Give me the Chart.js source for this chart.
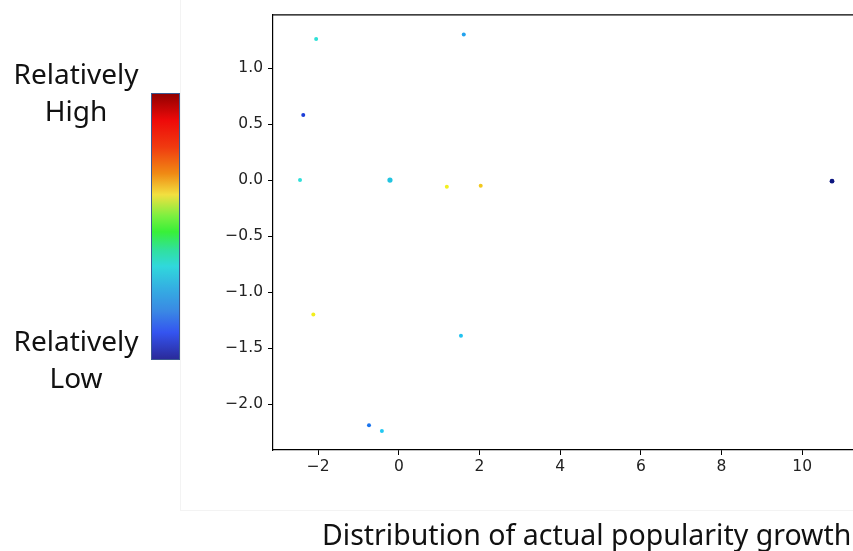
<!DOCTYPE html>
<html>
<head>
<meta charset="utf-8">
<script src="https://cdn.jsdelivr.net/npm/chart.js@4.4.1/dist/chart.umd.min.js"></script>
<style>
  html, body { margin: 0; padding: 0; background: #fff; overflow: hidden; }
  body { width: 853px; height: 551px; position: relative; font-family: "Noto Sans", sans-serif; }
  #wrap { position: absolute; left: 0; top: 0; width: 910px; height: 551px; }
  #frame { position: absolute; left: 180px; top: -2px; width: 700px; height: 512px;
           border-left: 1px solid #f3f3f3; border-bottom: 1px solid #f3f3f3; }
  .lbl { position: absolute; width: 152px; text-align: center; font-size: 28px; color: #111; line-height: 37px; }
  #cbar { position: absolute; left: 151px; top: 93px; width: 27px; height: 265px;
          border: 1.5px solid #3c5a92;
          background: linear-gradient(to bottom, #920000 0%, #ee0a0a 10%, #f03a10 20%, #f08a14 30%,
            #f2e040 38%, #7cf040 46%, #38f038 52%, #30e0a0 59%, #30d8dc 65%, #34b0e2 73%,
            #3a88e4 82%, #3454f0 90%, #2a2a9a 100%); }
  #xtitle { position: absolute; left: 322px; top: 515px; font-size: 28.5px; color: #111; white-space: nowrap; }
</style>
</head>
<body>
<div id="frame"></div>
<div id="wrap"><canvas id="chart" width="910" height="551"></canvas></div>
<div class="lbl" style="left:0; top:55px">Relatively<br>High</div>
<div id="cbar"></div>
<div class="lbl" style="left:0; top:322px">Relatively<br>Low</div>
<div id="xtitle">Distribution of actual popularity growth</div>
<script>
// scatter values (x, y) and the colour of each point
const xValues = [-2.05, 1.61, -2.37, -2.45, -0.22, 1.19, 2.03, 10.74, -2.12, 1.54, -0.74, -0.42];
const yValues = [1.26, 1.30, 0.58, 0.00, 0.00, -0.06, -0.05, -0.01, -1.20, -1.39, -2.19, -2.24];
const pointColors = ['#2ee0d6', '#22a2ee', '#1c3ed8', '#30e0da', '#22c4e0', '#f2f020', '#f2c81e',
                     '#0c1680', '#f2ee1c', '#22c2f0', '#1a74ee', '#22c8f2'];
const pointSizes = [2, 2, 2, 2, 2.6, 2, 2, 2.4, 2, 2, 2, 2];
const xTicks = [-2, 0, 2, 4, 6, 8, 10];
const yTicks = [-2.0, -1.5, -1.0, -0.5, 0.0, 0.5, 1.0];

const points = xValues.map((x, i) => ({ x: x, y: yValues[i] }));
const fmt = (v, d) => (v < 0 ? '\u2212' : '') + Math.abs(v).toFixed(d);

// top spine of the axes box
const topSpine = {
  id: 'topSpine',
  afterDraw(chart) {
    const a = chart.chartArea, ctx = chart.ctx;
    ctx.save();
    ctx.strokeStyle = '#000';
    ctx.lineWidth = 1.2;
    ctx.beginPath();
    ctx.moveTo(a.left, a.top + 0.5);
    ctx.lineTo(a.right, a.top + 0.5);
    ctx.stroke();
    ctx.restore();
  }
};

new Chart(document.getElementById('chart'), {
  type: 'scatter',
  data: {
    datasets: [{
      data: points,
      backgroundColor: pointColors,
      borderWidth: 0,
      pointRadius: pointSizes,
      pointHoverRadius: pointSizes
    }]
  },
  options: {
    responsive: false,
    animation: false,
    layout: { padding: { top: 13, right: 7, left: 0, bottom: 0 } },
    plugins: { legend: { display: false }, tooltip: { enabled: false } },
    scales: {
      x: {
        type: 'linear',
        min: -3.12,
        max: 12.5,
        afterBuildTicks: s => { s.ticks = xTicks.map(v => ({ value: v })); },
        afterFit: s => { s.height = 101; },
        grid: { drawOnChartArea: false, drawTicks: true, tickLength: 5, color: '#000', tickWidth: 1 },
        border: { display: true, color: '#000', width: 1.2 },
        ticks: {
          color: '#222', padding: 3,
          font: { family: 'DejaVu Sans', size: 15.5 },
          callback: v => fmt(v, 0)
        }
      },
      y: {
        type: 'linear',
        min: -2.41,
        max: 1.48,
        afterBuildTicks: s => { s.ticks = yTicks.map(v => ({ value: v })); },
        afterFit: s => { s.width = 273; },
        grid: { drawOnChartArea: false, drawTicks: true, tickLength: 5, color: '#000', tickWidth: 1 },
        border: { display: true, color: '#000', width: 1.2 },
        ticks: {
          color: '#222', padding: 5,
          font: { family: 'DejaVu Sans', size: 15.5 },
          callback: v => fmt(v, 1)
        }
      }
    }
  },
  plugins: [topSpine]
});
</script>
</body>
</html>
